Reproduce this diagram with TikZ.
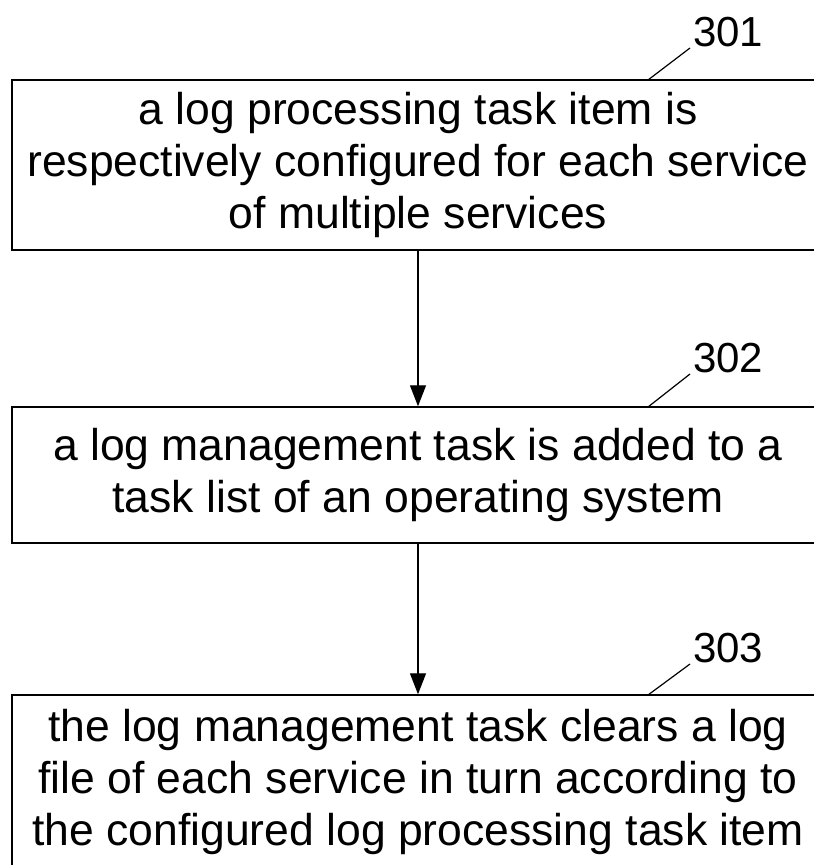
\documentclass[tikz,border=0pt]{standalone}
\usepackage{fontspec}
\setmainfont{Liberation Sans}
\usetikzlibrary{arrows.meta}
\begin{document}
\begin{tikzpicture}[x=1pt,y=-1pt,
  stepbox/.style={draw, line width=1.5pt, minimum width=812pt, inner sep=0pt, align=center,
    font=\fontsize{44.5}{52}\selectfont},
  reflabel/.style={anchor=base west, inner sep=0pt, font=\fontsize{42}{42}\selectfont},
  flow/.style={line width=1.4pt, -{Triangle[length=21pt,width=16pt]}},
  leader/.style={line width=1.2pt}]
\useasboundingbox (0,0) rectangle (814,865);
\fill[white] (0,0) rectangle (814,865);
\clip (0,0) rectangle (814,865);

\node[stepbox, minimum height=170pt] (b1) at (418,165)
  {a log processing task item is\\respectively configured for each service\\of multiple services};
\node[stepbox, minimum height=136pt] (b2) at (418,475)
  {a log management task is added to a\\task list of an operating system};
\node[stepbox, minimum height=173pt] (b3) at (418,781.5)
  {the log management task clears a log\\file of each service in turn according to\\the configured log processing task item};

\node[reflabel] (l1) at (693,46) {301};
\node[reflabel] (l2) at (693,372) {302};
\node[reflabel] (l3) at (693,662) {303};

\coordinate (c1) at (648,80);
\coordinate (c2) at (648,407);
\coordinate (c3) at (648,695);

\draw[leader] (c1) -- ([shift={(-3pt,-2pt)}]l1.base west);
\draw[leader] (c2) -- ([shift={(-3pt,-2pt)}]l2.base west);
\draw[leader] (c3) -- ([shift={(-3pt,-2pt)}]l3.base west);

\draw[flow] (b1.south) -- (b2.north);
\draw[flow] (b2.south) -- (b3.north);
\end{tikzpicture}
\end{document}
